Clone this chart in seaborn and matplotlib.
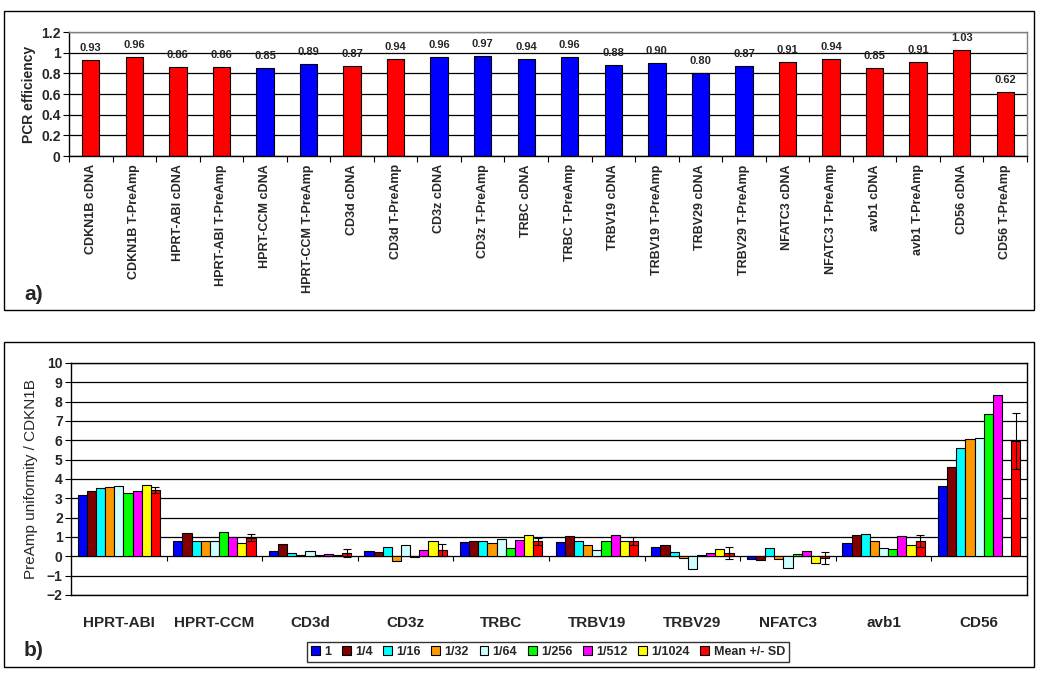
import numpy as np
import pandas as pd
import matplotlib
matplotlib.use("Agg")
import matplotlib.pyplot as plt
from matplotlib.patches import Rectangle
from matplotlib.ticker import FuncFormatter, FixedLocator
import seaborn as sns

# --- panel a: PCR efficiency ---
assays = ["CDKN1B cDNA", "CDKN1B T-PreAmp", "HPRT-ABI cDNA", "HPRT-ABI T-PreAmp",
          "HPRT-CCM cDNA", "HPRT-CCM T-PreAmp", "CD3d cDNA", "CD3d T-PreAmp",
          "CD3z cDNA", "CD3z T-PreAmp", "TRBC cDNA", "TRBC T-PreAmp",
          "TRBV19 cDNA", "TRBV19 T-PreAmp", "TRBV29 cDNA", "TRBV29 T-PreAmp",
          "NFATC3 cDNA", "NFATC3 T-PreAmp", "avb1 cDNA", "avb1 T-PreAmp",
          "CD56 cDNA", "CD56 T-PreAmp"]
efficiency = [0.93, 0.96, 0.86, 0.86, 0.85, 0.89, 0.87, 0.94, 0.96, 0.97, 0.94,
              0.96, 0.88, 0.90, 0.80, 0.87, 0.91, 0.94, 0.85, 0.91, 1.03, 0.62]
assay_set = ["red", "red", "red", "red", "blue", "blue", "red", "red", "blue", "blue",
             "blue", "blue", "blue", "blue", "blue", "blue", "red", "red", "red", "red",
             "red", "red"]

# --- panel b: PreAmp uniformity ---
genes = ["HPRT-ABI", "HPRT-CCM", "CD3d", "CD3z", "TRBC", "TRBV19", "TRBV29",
         "NFATC3", "avb1", "CD56"]
dilutions = ["1", "1/4", "1/16", "1/32", "1/64", "1/256", "1/512", "1/1024", "Mean +/- SD"]
d_1 = [3.17, 0.79, 0.28, 0.29, 0.74, 0.76, 0.48, -0.14, 0.69, 3.66]
d_4 = [3.38, 1.21, 0.66, 0.24, 0.79, 1.05, 0.59, -0.21, 1.10, 4.62]
d_16 = [3.53, 0.78, 0.17, 0.48, 0.79, 0.79, 0.22, 0.41, 1.17, 5.60]
d_32 = [3.59, 0.78, 0.05, -0.24, 0.69, 0.59, -0.07, -0.14, 0.79, 6.07]
d_64 = [3.64, 0.78, 0.28, 0.59, 0.90, 0.33, -0.66, -0.60, 0.41, 6.12]
d_256 = [3.26, 1.26, 0.05, -0.03, 0.41, 0.79, 0.05, 0.12, 0.36, 7.36]
d_512 = [3.36, 0.98, 0.12, 0.33, 0.84, 1.10, 0.17, 0.29, 1.05, 8.34]
d_1024 = [3.69, 0.67, 0.07, 0.79, 1.10, 0.79, 0.38, -0.34, 0.59, np.nan]
mean_vals = [3.43, 0.97, 0.19, 0.33, 0.78, 0.79, 0.17, -0.09, 0.79, 5.98]
sd_vals = [0.17, 0.18, 0.20, 0.31, 0.18, 0.20, 0.32, 0.31, 0.31, 1.44]

dil_colors = ["#0000FF", "#800000", "#00FFFF", "#FF9900", "#CCFFFF",
              "#00FF00", "#FF00FF", "#FFFF00", "#FF0000"]

sns.set_theme(style="white")
plt.rcParams["font.family"] = ["Liberation Sans", "DejaVu Sans"]

fig = plt.figure(figsize=(10.4, 6.78), dpi=100)
W, H = 1040, 678


def fig_rect(x0, y0, x1, y1):
    # pixel box (top-left origin) -> figure fraction [l, b, w, h]
    return [x0 / W, 1 - y1 / H, (x1 - x0) / W, (y1 - y0) / H]


# panel frames
for x0, y0, x1, y1 in [(4, 11, 1034, 310), (4, 342, 1034, 667)]:
    fig.add_artist(Rectangle((x0 / W, 1 - y1 / H), (x1 - x0) / W, (y1 - y0) / H,
                             transform=fig.transFigure, fill=False, ec="black", lw=1))

# ---------------- panel a ----------------
ax1 = fig.add_axes(fig_rect(69, 32, 1027, 156))
df_a = pd.DataFrame({"assay": assays, "eff": efficiency, "set": assay_set})
sns.barplot(data=df_a, x="assay", y="eff", hue="set", order=assays,
            palette={"red": "#FF0000", "blue": "#0000FF"}, dodge=False, width=0.4,
            saturation=1, edgecolor="black", linewidth=0.8, legend=False, ax=ax1)
for cont in ax1.containers:
    ax1.bar_label(cont, fmt="%.2f", padding=5, fontsize=8, fontweight="bold")
ax1.set_ylim(0, 1.2)
ax1.set_xlim(-0.5, len(assays) - 0.5)
ax1.set_yticks(np.arange(0, 1.21, 0.2))
ax1.yaxis.set_major_formatter(FuncFormatter(lambda v, p: f"{v:g}"))
ax1.grid(axis="y", color="black", lw=0.9)
ax1.set_axisbelow(True)
ax1.set_xlabel("")
ax1.set_ylabel("PCR efficiency", fontsize=10, fontweight="bold", labelpad=4)
ax1.tick_params(axis="x", length=0, pad=6)
ax1.set_xticks(range(len(assays)))
ax1.set_xticklabels(assays, rotation=90, fontsize=9, fontweight="bold", va="top")
ax1.xaxis.set_minor_locator(FixedLocator(np.arange(len(assays) + 1) - 0.5))
ax1.tick_params(axis="x", which="minor", length=4, width=0.8, color="black", direction="out", bottom=True)
ax1.tick_params(axis="y", length=4, width=0.8, color="black", direction="out", left=True,
                labelsize=10, pad=2)
for lab in ax1.get_yticklabels():
    lab.set_fontweight("bold")
for s in ["left", "bottom"]:
    ax1.spines[s].set_color("black")
    ax1.spines[s].set_linewidth(1)
for s in ["top", "right"]:
    ax1.spines[s].set_color("#808080")
    ax1.spines[s].set_linewidth(1)

fig.text(24 / W, 1 - 295 / H, "a)", fontsize=15, fontweight="bold", va="center", ha="left")

# ---------------- panel b ----------------
ax2 = fig.add_axes(fig_rect(71, 363, 1027, 595))
series = [d_1, d_4, d_16, d_32, d_64, d_256, d_512, d_1024, mean_vals]
rows = []
for dil, vals in zip(dilutions, series):
    for g, v in zip(genes, vals):
        rows.append({"gene": g, "dilution": dil, "value": v})
df_b = pd.DataFrame(rows).dropna()
sns.barplot(data=df_b, x="gene", y="value", hue="dilution", order=genes,
            hue_order=dilutions, palette=dil_colors, width=0.86, gap=0, saturation=1,
            edgecolor="black", linewidth=0.8, ax=ax2)
handles, labels = ax2.get_legend_handles_labels()
ax2.get_legend().remove()

mean_bars = ax2.containers[-1]
mx = [p.get_x() + p.get_width() / 2 for p in mean_bars]
ax2.errorbar(mx, mean_vals, yerr=sd_vals, fmt="none", ecolor="black",
             elinewidth=0.8, capsize=3, capthick=0.8)

ax2.set_ylim(-2, 10)
ax2.set_xlim(-0.5, len(genes) - 0.5)
ax2.set_yticks(range(-2, 11))
ax2.grid(axis="y", color="black", lw=0.9)
ax2.set_axisbelow(True)
ax2.vlines(np.arange(len(genes) - 1) + 0.5, -0.26, 0, color="black", lw=0.8)
ax2.set_xlabel("")
ax2.set_ylabel("PreAmp uniformity / CDKN1B", fontsize=11, labelpad=6)
ax2.tick_params(axis="x", length=0, pad=15, labelsize=11)
ax2.tick_params(axis="y", length=4, width=0.8, color="black", direction="out", left=True,
                labelsize=10, pad=2)
for lab in ax2.get_xticklabels() + ax2.get_yticklabels():
    lab.set_fontweight("bold")
for s in ax2.spines.values():
    s.set_color("black")
    s.set_linewidth(1)

for h in handles:
    h.set_edgecolor("black")
    h.set_linewidth(0.8)
leg = fig.legend(handles, labels, loc="center", bbox_to_anchor=(548 / W, 1 - 652 / H),
                 ncol=len(dilutions), frameon=True, fancybox=False, handlelength=0.7,
                 handleheight=0.7, handletextpad=0.35, columnspacing=0.85, borderpad=0.3,
                 prop={"size": 9, "weight": "bold"})
leg.get_frame().set_edgecolor("black")
leg.get_frame().set_linewidth(1)

fig.text(24 / W, 1 - 650 / H, "b)", fontsize=15, fontweight="bold", va="center", ha="left")

fig.savefig("out.png", dpi=100, facecolor="white")
